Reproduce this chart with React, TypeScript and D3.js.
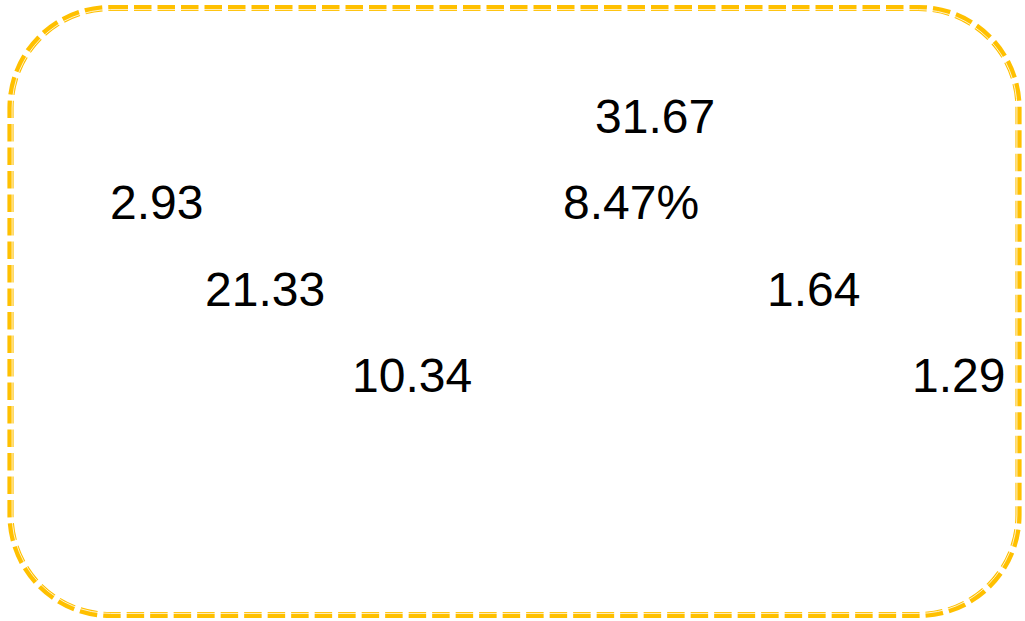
import React from "react";
import * as d3 from "d3";

// Values shown in the text box, in reading order
const labels: string[] = ["31.67", "2.93", "8.47%", "21.33", "1.64", "10.34", "1.29"];
// Row index of each label (0 = top line)
const rows: number[] = [0, 1, 1, 2, 2, 3, 3];
// Horizontal start of each label (px)
const starts: number[] = [595, 110, 563, 205, 767, 352, 912];

const W = 1025;
const H = 621;

export default function App() {
  const y = d3.scaleLinear().domain([0, 3]).range([133, 392]);
  const x = d3.scaleIdentity();

  const bx = 10.5, by = 8, bw = 1008, bh = 607, r = 100;
  const inset = 1.6;

  return (
    <svg
      width={W}
      height={H}
      style={{ position: "fixed", left: 0, top: 0, background: "#fff" }}
      xmlns="http://www.w3.org/2000/svg"
    >
      <rect x={0} y={0} width={W} height={H} fill="#fff" />
      <rect
        x={bx}
        y={by}
        width={bw}
        height={bh}
        rx={r}
        ry={r}
        fill="none"
        stroke="#FFC000"
        strokeWidth={6.2}
        strokeDasharray="17.5 6"
      />
      <rect
        x={bx + inset}
        y={by + inset}
        width={bw - 2 * inset}
        height={bh - 2 * inset}
        rx={r - inset}
        ry={r - inset}
        fill="none"
        stroke="#fff"
        strokeWidth={0.8}
      />
      {labels.map((t, i) => (
        <text
          key={i}
          x={x(starts[i])}
          y={y(rows[i])}
          fontFamily="'Liberation Sans', Arial, sans-serif"
          fontSize={48}
          fill="#000"
        >
          {t}
        </text>
      ))}
    </svg>
  );
}
